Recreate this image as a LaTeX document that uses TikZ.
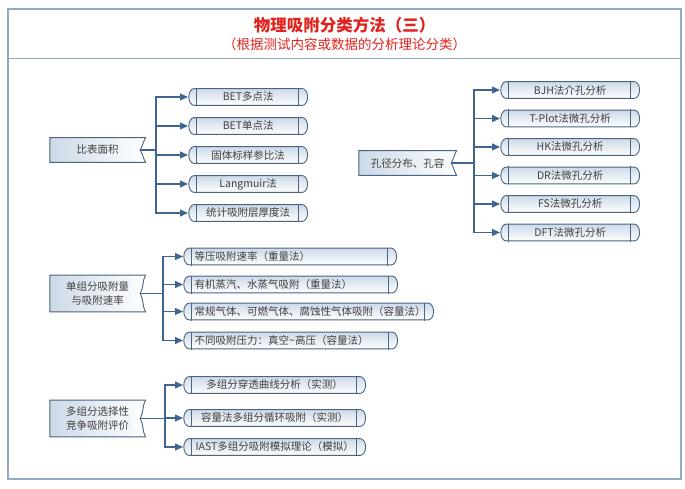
\documentclass[tikz,border=0pt]{standalone}
\usepackage{fontspec}
\setmainfont{Noto Sans CJK SC}
\usepackage{tikz}
\usepackage{xcolor}
\usetikzlibrary{arrows.meta}
\definecolor{framecol}{HTML}{93AAC4}
\definecolor{linkcol}{HTML}{3F6590}
\definecolor{edgecol}{HTML}{4A6482}
\definecolor{fillcol}{HTML}{CCD9E7}
\definecolor{titlecol}{HTML}{E3211C}
\definecolor{textcol}{HTML}{404040}
\newcommand{\boxh}{18}
\newcommand{\tagw}{97}
\newcommand{\boxfont}{\fontsize{10.5}{14}\selectfont}

\begin{document}
\begin{tikzpicture}[x=1pt, y=-1pt,
        link/.style={draw=linkcol, line width=1.4pt, line cap=rect},
        arr/.style={draw=linkcol, line width=1.4pt, -{Triangle[length=8pt,width=7pt]}},
        stored/.style={minimum width=#1, minimum height=\boxh pt, inner sep=0pt, text=textcol, font=\boxfont, fill=white,
            path picture={
                \shade[top color=fillcol, bottom color=white, draw=edgecol, line width=.9pt]
                    ([xshift=6pt,yshift=-.6pt]path picture bounding box.north west)
                    -- ([xshift=-6pt,yshift=-.6pt]path picture bounding box.north east)
                    arc[start angle=90, end angle=-90, x radius=5.4pt, y radius=8.4pt]
                    -- ([xshift=6pt,yshift=.6pt]path picture bounding box.south west)
                    arc[start angle=270, end angle=90, x radius=5.4pt, y radius=8.4pt] -- cycle;
                \draw[edgecol, line width=.9pt]
                    ([xshift=8pt]path picture bounding box.north west) -- ([xshift=8pt]path picture bounding box.south west)
                    ([xshift=-9.5pt]path picture bounding box.north east) -- ([xshift=-9.5pt]path picture bounding box.south east);
            }},
        tagbox/.style={minimum width=\tagw pt, minimum height=#1, inner sep=0pt, align=center, text=textcol, font=\boxfont, fill=white,
            path picture={
                \shade[left color=fillcol, right color=white, draw=edgecol, line width=.9pt]
                    ([xshift=.6pt,yshift=-.6pt]path picture bounding box.north west)
                    -- ([xshift=-.6pt,yshift=-.6pt]path picture bounding box.north east)
                    to[out=-120, in=60] ([xshift=-6pt]path picture bounding box.east)
                    to[out=-60, in=120] ([xshift=-.6pt,yshift=.6pt]path picture bounding box.south east)
                    -- ([xshift=.6pt,yshift=.6pt]path picture bounding box.south west) -- cycle;
            }}]
        \useasboundingbox (0,0) rectangle (685,489);

        % frame
        \draw[framecol, line width=1.3pt] (8,9) rectangle (681,479);
        \draw[framecol, line width=1.5pt] (8,58.5) -- (681,58.5);

        % labels
        \node[text=titlecol, font=\bfseries\fontsize{16.5}{18}\selectfont] (title) at (344.5,25) {物理吸附分类方法（三）};
        \node[text=titlecol, font=\fontsize{13.5}{15}\selectfont] (subtitle) at (344.5,44) {（根据测试内容或数据的分析理论分类）};

        \coordinate (areaJ) at (156,150);
        \coordinate (poreJ) at (474,163);
        \coordinate (rateJ) at (163,293.5);
        \coordinate (compJ) at (165,418.5);

        % boxes
        \node[tagbox=26pt, anchor=west] (areaBox) at (49,150) {比表面积};
        \node[stored=120, anchor=west] (betMulti) at (188,97) {BET多点法};
        \node[stored=120, anchor=west] (betSingle) at (188,126) {BET单点法};
        \node[stored=120, anchor=west] (refStd) at (188,155) {固体标样参比法};
        \node[stored=120, anchor=west] (langmuir) at (188,184) {Langmuir法};
        \node[stored=120, anchor=west] (statThick) at (188,213) {统计吸附层厚度法};

        \node[tagbox=26pt, anchor=west, minimum width=99pt] (poreBox) at (358,163) {孔径分布、孔容};
        \node[stored=140, anchor=west] (bjh) at (500,90) {BJH法介孔分析};
        \node[stored=140, anchor=west] (tplot) at (500,118.5) {T-Plot法微孔分析};
        \node[stored=140, anchor=west] (hk) at (500,147) {HK法微孔分析};
        \node[stored=140, anchor=west] (dr) at (500,175.5) {DR法微孔分析};
        \node[stored=140, anchor=west] (fs) at (500,204) {FS法微孔分析};
        \node[stored=140, anchor=west] (dft) at (500,232.5) {DFT法微孔分析};

        \node[tagbox=38pt, anchor=west] (rateBox) at (49,293.5) {单组分吸附量\\与吸附速率};
        \node[stored=214, anchor=west, text width=191pt, align=left, inner xsep=11.5pt] (isoRate) at (183,256.5) {等压吸附速率（重量法）};
        \node[stored=215, anchor=west, text width=192pt, align=left, inner xsep=11.5pt] (vapour) at (183,284.5) {有机蒸汽、水蒸气吸附（重量法）};
        \node[stored=251, anchor=west, text width=228pt, align=left, inner xsep=11.5pt] (gasVol) at (183,311.5) {常规气体、可燃气体、腐蚀性气体吸附（容量法）};
        \node[stored=215, anchor=west, text width=192pt, align=left, inner xsep=11.5pt] (pressure) at (183,340.5) {不同吸附压力：真空\textasciitilde 高压（容量法）};

        \node[tagbox=38pt, anchor=west] (compBox) at (49,418.5) {多组分选择性\\竞争吸附评价};
        \node[stored=183, anchor=west] (breakCurve) at (183,385) {多组分穿透曲线分析（实测）};
        \node[stored=183, anchor=west] (cycleVol) at (183,418) {容量法多组分循环吸附（实测）};
        \node[stored=183, anchor=west] (iast) at (183,447) {IAST多组分吸附模拟理论（模拟）};

        % trunks
        \draw[link] ([xshift=-6pt]areaBox.east) -- (areaJ);
        \draw[link] (areaJ |- betMulti.west) -- (areaJ |- statThick.west);
        \draw[link] ([xshift=-6pt]poreBox.east) -- (poreJ);
        \draw[link] (poreJ |- bjh.west) -- (poreJ |- dft.west);
        \draw[link] ([xshift=-6pt]rateBox.east) -- (rateJ);
        \draw[link] (rateJ |- isoRate.west) -- (rateJ |- pressure.west);
        \draw[link] ([xshift=-6pt]compBox.east) -- (compJ);
        \draw[link] (compJ |- breakCurve.west) -- (compJ |- iast.west);

        % arrows
        \draw[arr] (areaJ |- betMulti.west) -- (betMulti.west);
        \draw[arr] (areaJ |- betSingle.west) -- (betSingle.west);
        \draw[arr] (areaJ |- refStd.west) -- (refStd.west);
        \draw[arr] (areaJ |- langmuir.west) -- (langmuir.west);
        \draw[arr] (areaJ |- statThick.west) -- (statThick.west);
        \draw[arr] (poreJ |- bjh.west) -- (bjh.west);
        \draw[arr] (poreJ |- tplot.west) -- (tplot.west);
        \draw[arr] (poreJ |- hk.west) -- (hk.west);
        \draw[arr] (poreJ |- dr.west) -- (dr.west);
        \draw[arr] (poreJ |- fs.west) -- (fs.west);
        \draw[arr] (poreJ |- dft.west) -- (dft.west);
        \draw[arr] (rateJ |- isoRate.west) -- (isoRate.west);
        \draw[arr] (rateJ |- vapour.west) -- (vapour.west);
        \draw[arr] (rateJ |- gasVol.west) -- (gasVol.west);
        \draw[arr] (rateJ |- pressure.west) -- (pressure.west);
        \draw[arr] (compJ |- breakCurve.west) -- (breakCurve.west);
        \draw[arr] (compJ |- cycleVol.west) -- (cycleVol.west);
        \draw[arr] (compJ |- iast.west) -- (iast.west);
    \end{tikzpicture}
\end{document}
